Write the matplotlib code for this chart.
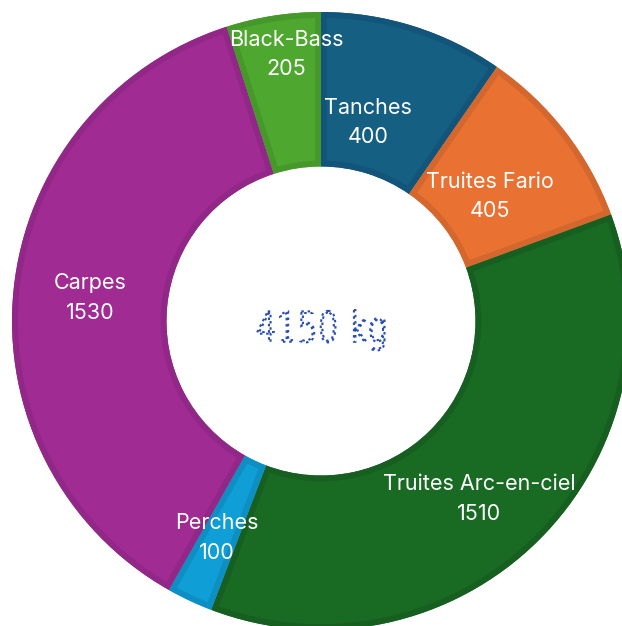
import numpy as np
import matplotlib.pyplot as plt
from matplotlib.textpath import TextPath
from matplotlib.patches import PathPatch, Wedge
from matplotlib.font_manager import FontProperties
import matplotlib.transforms as mtransforms

plt.rcParams['font.family'] = ['Inter', 'DejaVu Sans']

# data, clockwise from 12 o'clock
species = ['Tanches', 'Truites Fario', 'Truites Arc-en-ciel', 'Perches', 'Carpes', 'Black-Bass']
weights = [400, 405, 1510, 100, 1530, 205]
colors = ['#156082', '#E97132', '#196B24', '#0F9ED5', '#A02B93', '#4EA72E']
edge_colors = ['#13557A', '#D4672D', '#175F21', '#0E8FC4', '#912787', '#47982A']
unit = 'kg'

# label placement tweaks (radius fraction, angle shift in degrees), by eye
label_r = [0.66, 0.68, 0.77, 0.78, 0.75, 0.87]
label_shift = [-3.9, 1.4, 3.1, 0.5, -0.2, 1.5]

fig = plt.figure(figsize=(6.22, 6.26), dpi=100)
ax = fig.add_axes([0, 0, 1, 1])

wedges, _ = ax.pie(weights, colors=colors, startangle=90, counterclock=False,
                   radius=1.0, wedgeprops=dict(width=0.5, linewidth=0))

# darker inner band on each segment (stroke clipped to the wedge)
for w, ec in zip(wedges, edge_colors):
    band = Wedge(w.center, w.r, w.theta1, w.theta2, width=w.width,
                 facecolor='none', edgecolor=ec, linewidth=8.5)
    ax.add_patch(band)
    band.set_clip_path(w)

# labels
total = sum(weights)
start = 90.0
for name, val, r, sh in zip(species, weights, label_r, label_shift):
    span = val / total * 360
    mid = np.deg2rad(start - span / 2 - sh)
    start -= span
    ax.text(r * np.cos(mid), r * np.sin(mid), f'{name}\n{val}', ha='center', va='center',
            color='white', fontsize=15.5, linespacing=1.6)

# center total, dotted "handwritten" look
fp = FontProperties(family='DejaVu Sans', weight='light')
tp = TextPath((0, 0), f'{total} {unit}', size=1, prop=fp)
bb = tp.get_extents()
tr = (mtransforms.Affine2D().translate(-bb.x0 - bb.width / 2, -bb.y0 - bb.height / 2)
      .scale(0.105, 0.135).translate(0.0, -0.03))
ax.add_patch(PathPatch(tr.transform_path(tp), facecolor='none', edgecolor='#2B50B0',
                       linewidth=1.5, linestyle=(0, (1.2, 1.8))))

ax.set_xlim(-321 / 309, (622 - 321) / 309)
ax.set_ylim(-(626 - 321) / 309, 321 / 309)
ax.set_aspect('auto')
ax.axis('off')

fig.savefig('out.png', dpi=100)
